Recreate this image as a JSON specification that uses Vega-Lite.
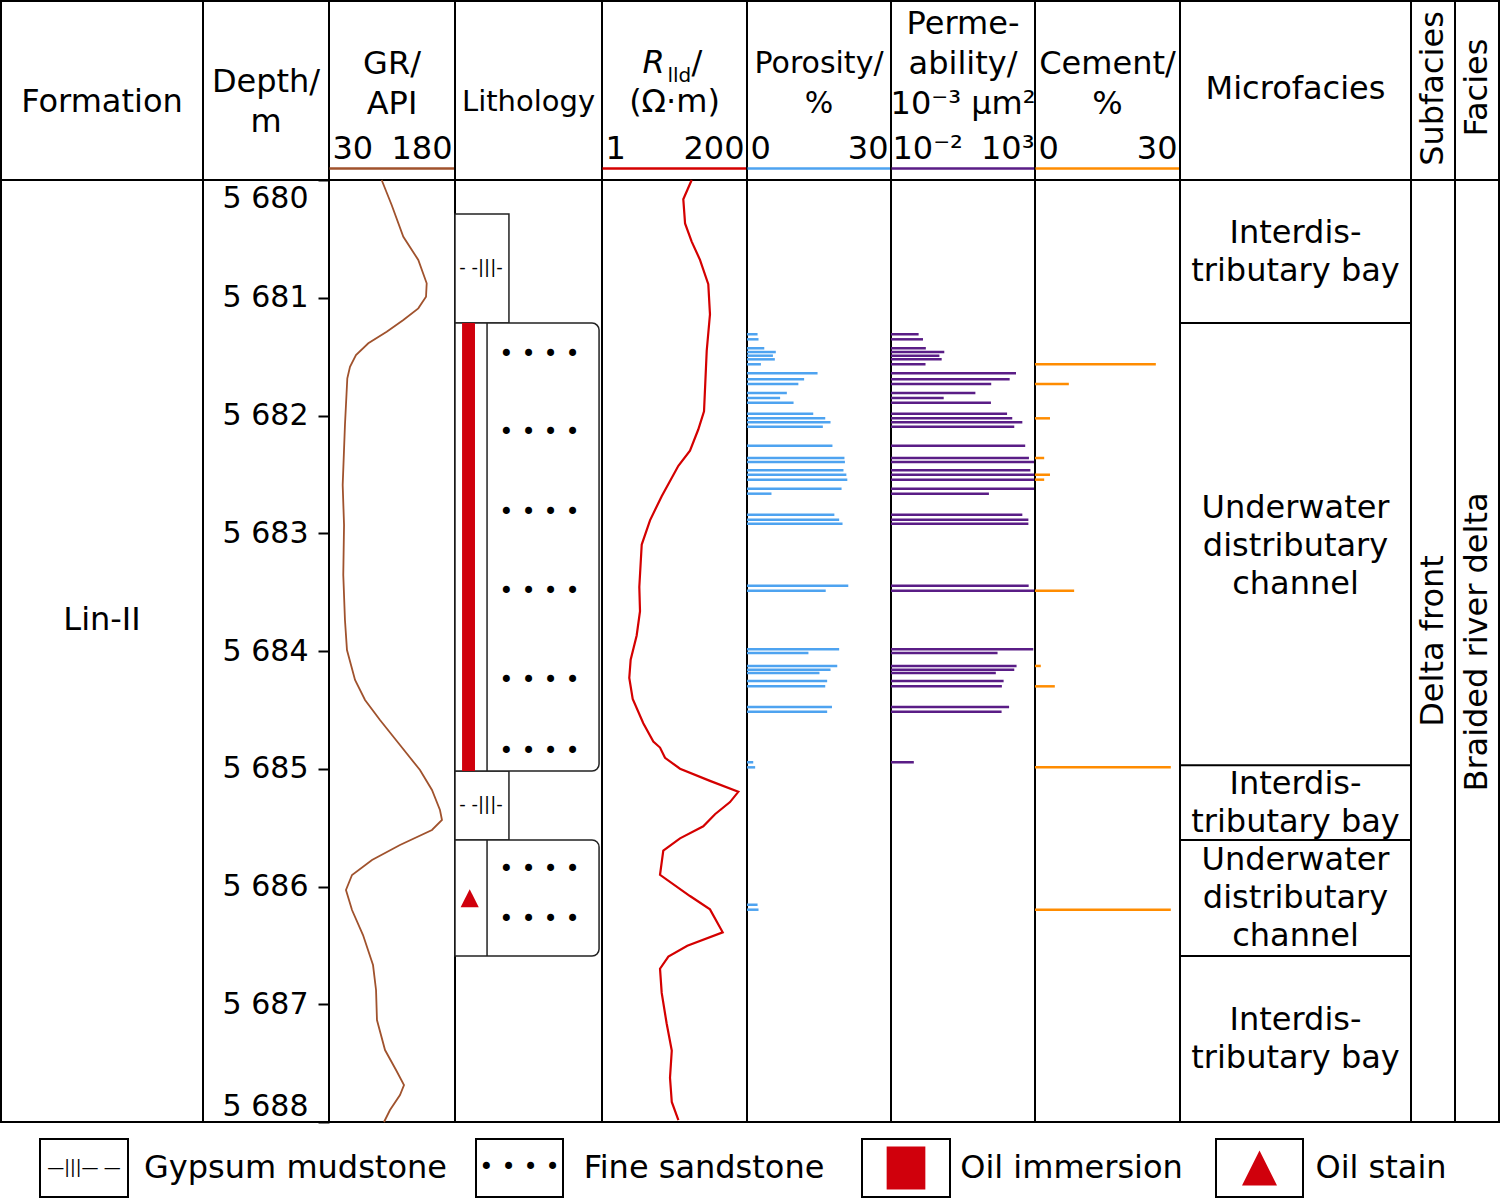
{
"$schema": "https://vega.github.io/schema/vega-lite/v6.json",
"padding": 0,
"background": "white",
"spacing": 11,
"config": {
  "view": {"stroke": "black", "strokeWidth": 2},
  "text": {"font": "DejaVu Sans", "fontSize": 32, "color": "black"},
  "axis": {"labelFont": "DejaVu Sans", "labelColor": "black"}
},
"datasets": {
  "gr": [
    {"depth":5680.000,"api":92.7},{"depth":5680.212,"api":104.6},{"depth":5680.482,"api":118.5},{"depth":5680.679,"api":136.3},
    {"depth":5680.877,"api":146.3},{"depth":5680.991,"api":145.5},{"depth":5681.090,"api":136.3},{"depth":5681.189,"api":118.5},
    {"depth":5681.288,"api":98.7},{"depth":5681.387,"api":76.8},{"depth":5681.486,"api":62.1},{"depth":5681.586,"api":55.0},
    {"depth":5681.684,"api":51.8},{"depth":5682.081,"api":49.0},{"depth":5682.590,"api":46.3},{"depth":5682.930,"api":47.9},
    {"depth":5683.355,"api":47.0},{"depth":5683.737,"api":49.0},{"depth":5683.992,"api":51.4},{"depth":5684.246,"api":61.0},
    {"depth":5684.416,"api":72.9},{"depth":5684.586,"api":90.7},{"depth":5684.798,"api":114.5},{"depth":5685.011,"api":138.3},
    {"depth":5685.180,"api":152.6},{"depth":5685.350,"api":162.1},{"depth":5685.435,"api":164.5},{"depth":5685.520,"api":152.6},
    {"depth":5685.648,"api":114.5},{"depth":5685.775,"api":81.2},{"depth":5685.902,"api":57.4},{"depth":5686.030,"api":50.2},
    {"depth":5686.200,"api":57.4},{"depth":5686.412,"api":70.5},{"depth":5686.667,"api":82.4},{"depth":5686.879,"api":86.0},
    {"depth":5687.134,"api":87.1},{"depth":5687.389,"api":96.7},{"depth":5687.558,"api":109.8},{"depth":5687.686,"api":119.3},
    {"depth":5687.771,"api":114.5},{"depth":5687.898,"api":102.6},{"depth":5688.000,"api":95.5}
  ],
  "rlld": [
    {"depth":5680.000,"r":26.5},{"depth":5680.163,"r":19.5},{"depth":5680.369,"r":20.8},{"depth":5680.523,"r":26.5},
    {"depth":5680.678,"r":35.9},{"depth":5680.884,"r":48.6},{"depth":5681.141,"r":51.7},{"depth":5681.450,"r":45.9},
    {"depth":5681.964,"r":41.6},{"depth":5682.119,"r":33.7},{"depth":5682.299,"r":24.9},{"depth":5682.427,"r":16.3},
    {"depth":5682.685,"r":8.86},{"depth":5682.890,"r":5.78},{"depth":5683.096,"r":4.27},{"depth":5683.456,"r":3.91},
    {"depth":5683.662,"r":4.01},{"depth":5683.868,"r":3.55},{"depth":5684.074,"r":2.85},{"depth":5684.228,"r":2.71},
    {"depth":5684.408,"r":3.07},{"depth":5684.614,"r":4.52},{"depth":5684.769,"r":6.52},{"depth":5684.820,"r":8.33},
    {"depth":5684.907,"r":10.0},{"depth":5685.000,"r":17.3},{"depth":5685.103,"r":51.7},{"depth":5685.196,"r":145.5},
    {"depth":5685.283,"r":107.5},{"depth":5685.386,"r":62.1},{"depth":5685.489,"r":40.5},{"depth":5685.591,"r":17.3},
    {"depth":5685.695,"r":9.39},{"depth":5685.901,"r":8.33},{"depth":5686.081,"r":24.9},{"depth":5686.194,"r":51.7},
    {"depth":5686.389,"r":82.3},{"depth":5686.503,"r":22.6},{"depth":5686.595,"r":11.3},{"depth":5686.698,"r":8.33},
    {"depth":5686.904,"r":8.86},{"depth":5687.161,"r":10.6},{"depth":5687.393,"r":12.8},{"depth":5687.624,"r":12.0},
    {"depth":5687.830,"r":12.8},{"depth":5687.985,"r":16.3}
  ],
  "samples": [
    {"depth":5681.310,"por":2.2,"perm":0.091,"cem":null},
    {"depth":5681.353,"por":2.4,"perm":0.129,"cem":null},
    {"depth":5681.429,"por":3.6,"perm":0.162,"cem":null},
    {"depth":5681.461,"por":6.0,"perm":0.708,"cem":null},
    {"depth":5681.492,"por":5.4,"perm":0.479,"cem":null},
    {"depth":5681.523,"por":5.8,"perm":0.575,"cem":null},
    {"depth":5681.565,"por":2.9,"perm":0.158,"cem":25.0},
    {"depth":5681.642,"por":14.7,"perm":218.8,"cem":null},
    {"depth":5681.693,"por":11.9,"perm":131.8,"cem":null},
    {"depth":5681.732,"por":10.7,"perm":30.2,"cem":7.0},
    {"depth":5681.809,"por":8.3,"perm":8.51,"cem":null},
    {"depth":5681.851,"por":6.9,"perm":0.676,"cem":null},
    {"depth":5681.891,"por":9.7,"perm":29.5,"cem":null},
    {"depth":5681.985,"por":13.8,"perm":107.2,"cem":null},
    {"depth":5682.024,"por":16.3,"perm":162.2,"cem":3.1},
    {"depth":5682.058,"por":17.4,"perm":363.1,"cem":null},
    {"depth":5682.095,"por":15.8,"perm":190.5,"cem":null},
    {"depth":5682.256,"por":17.8,"perm":457.1,"cem":null},
    {"depth":5682.361,"por":20.3,"perm":616.6,"cem":1.9},
    {"depth":5682.395,"por":20.4,"perm":1000,"cem":null},
    {"depth":5682.465,"por":20.1,"perm":691.8,"cem":null},
    {"depth":5682.503,"por":20.7,"perm":1000,"cem":3.1},
    {"depth":5682.545,"por":20.9,"perm":1000,"cem":1.9},
    {"depth":5682.622,"por":19.7,"perm":1000,"cem":null},
    {"depth":5682.664,"por":5.1,"perm":25.1,"cem":null},
    {"depth":5682.842,"por":18.2,"perm":363.1,"cem":null},
    {"depth":5682.885,"por":19.2,"perm":588.8,"cem":null},
    {"depth":5682.919,"por":19.9,"perm":588.8,"cem":null},
    {"depth":5683.445,"por":21.1,"perm":602.6,"cem":null},
    {"depth":5683.488,"por":16.4,"perm":1000,"cem":8.1},
    {"depth":5683.986,"por":19.2,"perm":871,"cem":null},
    {"depth":5684.017,"por":12.8,"perm":50.1,"cem":null},
    {"depth":5684.127,"por":18.8,"perm":229,"cem":1.2},
    {"depth":5684.159,"por":17.4,"perm":190.5,"cem":null},
    {"depth":5684.187,"por":15.1,"perm":43.6,"cem":null},
    {"depth":5684.255,"por":16.7,"perm":81.3,"cem":null},
    {"depth":5684.300,"por":16.3,"perm":70.8,"cem":4.1},
    {"depth":5684.476,"por":17.7,"perm":125.9,"cem":null},
    {"depth":5684.516,"por":16.7,"perm":69.2,"cem":null},
    {"depth":5684.945,"por":1.3,"perm":0.062,"cem":null},
    {"depth":5684.988,"por":1.7,"perm":null,"cem":28.1},
    {"depth":5686.155,"por":2.2,"perm":null,"cem":null},
    {"depth":5686.197,"por":2.4,"perm":null,"cem":28.1}
  ],
  "lith": [
    {"top":5680.289,"bottom":5681.215,"mid":5680.75,"lith":"Gypsum mudstone","grain":0.367,"oil":null},
    {"top":5681.215,"bottom":5685.019,"mid":5683.12,"lith":"Fine sandstone","grain":0.98,"oil":"Oil immersion"},
    {"top":5685.019,"bottom":5685.605,"mid":5685.31,"lith":"Gypsum mudstone","grain":0.367,"oil":null},
    {"top":5685.605,"bottom":5686.590,"mid":5686.10,"lith":"Fine sandstone","grain":0.98,"oil":"Oil stain"}
  ],
  "pattern": [
    {"depth":5680.747,"p":"gyp"},{"depth":5685.308,"p":"gyp"},
    {"depth":5681.486,"p":"sand"},{"depth":5682.149,"p":"sand"},{"depth":5682.828,"p":"sand"},{"depth":5683.499,"p":"sand"},
    {"depth":5684.255,"p":"sand"},{"depth":5684.858,"p":"sand"},{"depth":5685.860,"p":"sand"},{"depth":5686.285,"p":"sand"}
  ],
  "micro": [
    {"top":5680.0,"bottom":5681.215,"mid":5680.6075,"name":"Interdis-\ntributary bay"},
    {"top":5681.215,"bottom":5684.97,"mid":5683.11,"name":"Underwater\ndistributary\nchannel"},
    {"top":5684.97,"bottom":5685.605,"mid":5685.2875,"name":"Interdis-\ntributary bay"},
    {"top":5685.605,"bottom":5686.59,"mid":5686.0975,"name":"Underwater\ndistributary\nchannel"},
    {"top":5686.59,"bottom":5688.0,"mid":5687.295,"name":"Interdis-\ntributary bay"}
  ]
},
"vconcat": [
{
"columns": 11,
"spacing": 0,
"bounds": "flush",
"concat": [
  {"width":202,"height":179,"data":{"values":[{"h":"Formation"}]},"mark":{"type":"text","dy":11},
   "encoding":{"text":{"field":"h"},"x":{"datum":0.5,"type":"quantitative","scale":{"domain":[0,1]},"axis":null}}},
  {"width":126,"height":179,"data":{"values":[{"h":"Depth/\nm"}]},"mark":{"type":"text","dy":-9,"lineBreak":"\n","lineHeight":40},
   "encoding":{"text":{"field":"h"},"x":{"datum":0.5,"type":"quantitative","scale":{"domain":[0,1]},"axis":null}}},
  {"width":126,"height":179,"data":{"values":[{"h":"GR/\nAPI"}]},"mark":{"type":"text","dy":-27,"lineBreak":"\n","lineHeight":40},
   "encoding":{"text":{"field":"h"},
     "x":{"datum":105,"type":"quantitative","scale":{"domain":[30,180],"nice":false,"zero":false},
          "axis":{"orient":"bottom","offset":-12,"values":[30,180],"format":"d","labelFlush":true,"labelFlushOffset":-3,"labelBaseline":"alphabetic","labelPadding":-10,"labelFontSize":32,"labelOverlap":false,"labelBound":false,"ticks":false,"tickSize":0,"grid":false,"domainColor":"#a0522d","domainWidth":2.5,"title":null}}}},
  {"width":147,"height":179,"data":{"values":[{"h":"Lithology"}]},"mark":{"type":"text","dy":11,"fontSize":29},
   "encoding":{"text":{"field":"h"},"x":{"datum":0.5,"type":"quantitative","scale":{"domain":[0,1]},"axis":null}}},
  {"width":145,"height":179,"data":{"values":[{"r":"R","sub":"lld","sl":"/","unit":"(Ω·m)"}]},
   "layer":[
     {"mark":{"type":"text","align":"left","baseline":"alphabetic","fontStyle":"italic","dx":-32,"dy":-17.5},
      "encoding":{"text":{"field":"r"},
        "x":{"datum":14.142,"type":"quantitative","scale":{"type":"log","domain":[1,200],"nice":false},
             "axis":{"orient":"bottom","offset":-12,"values":[1,200],"format":"d","labelFlush":true,"labelFlushOffset":-3,"labelBaseline":"alphabetic","labelPadding":-10,"labelFontSize":32,"labelOverlap":false,"labelBound":false,"ticks":false,"tickSize":0,"grid":false,"domainColor":"#d40000","domainWidth":2.5,"title":null}}}},
     {"mark":{"type":"text","align":"left","baseline":"alphabetic","fontSize":20,"dx":-7,"dy":-9},"encoding":{"text":{"field":"sub"}}},
     {"mark":{"type":"text","align":"left","baseline":"alphabetic","dx":17,"dy":-17.5},"encoding":{"text":{"field":"sl"}}},
     {"mark":{"type":"text","dy":11},"encoding":{"text":{"field":"unit"}}}
   ]},
  {"width":144,"height":179,"data":{"values":[{"h":"Porosity/\n%"}]},"mark":{"type":"text","dy":-27,"lineBreak":"\n","lineHeight":40,"fontSize":30},
   "encoding":{"text":{"field":"h"},
     "x":{"datum":15,"type":"quantitative","scale":{"domain":[0,30],"nice":false,"zero":false},
          "axis":{"orient":"bottom","offset":-12,"values":[0,30],"format":"d","labelFlush":true,"labelFlushOffset":-3,"labelBaseline":"alphabetic","labelPadding":-10,"labelFontSize":32,"labelOverlap":false,"labelBound":false,"ticks":false,"tickSize":0,"grid":false,"domainColor":"#4ea3f0","domainWidth":2.5,"title":null}}}},
  {"width":144,"height":179,"data":{"values":[{"h":"Perme-\nability/\n10⁻³ μm²"}]},"mark":{"type":"text","dy":-67,"lineBreak":"\n","lineHeight":40},
   "encoding":{"text":{"field":"h"},
     "x":{"datum":3.1623,"type":"quantitative","scale":{"type":"log","domain":[0.01,1000],"nice":false},
          "axis":{"orient":"bottom","offset":-12,"values":[0.01,1000],"labelExpr":"datum.value < 1 ? '10⁻²' : '10³'","labelFlush":true,"labelFlushOffset":-1,"labelBaseline":"alphabetic","labelPadding":-10,"labelFontSize":32,"labelOverlap":false,"labelBound":false,"ticks":false,"tickSize":0,"grid":false,"domainColor":"#5a1d86","domainWidth":2.5,"title":null}}}},
  {"width":145,"height":179,"data":{"values":[{"h":"Cement/\n%"}]},"mark":{"type":"text","dy":-27,"lineBreak":"\n","lineHeight":40},
   "encoding":{"text":{"field":"h"},
     "x":{"datum":15,"type":"quantitative","scale":{"domain":[0,30],"nice":false,"zero":false},
          "axis":{"orient":"bottom","offset":-12,"values":[0,30],"format":"d","labelFlush":true,"labelFlushOffset":-3,"labelBaseline":"alphabetic","labelPadding":-10,"labelFontSize":32,"labelOverlap":false,"labelBound":false,"ticks":false,"tickSize":0,"grid":false,"domainColor":"#ff8c00","domainWidth":2.5,"title":null}}}},
  {"width":231,"height":179,"data":{"values":[{"h":"Microfacies"}]},"mark":{"type":"text","dy":-2},
   "encoding":{"text":{"field":"h"},"x":{"datum":0.5,"type":"quantitative","scale":{"domain":[0,1]},"axis":null}}},
  {"width":44,"height":179,"data":{"values":[{"h":"Subfacies"}]},"mark":{"type":"text","angle":270,"dx":2},
   "encoding":{"text":{"field":"h"},"x":{"datum":0.5,"type":"quantitative","scale":{"domain":[0,1]},"axis":null}}},
  {"width":44,"height":179,"data":{"values":[{"h":"Facies"}]},"mark":{"type":"text","angle":270,"dx":3},
   "encoding":{"text":{"field":"h"},"x":{"datum":0.5,"type":"quantitative","scale":{"domain":[0,1]},"axis":null}}},

  {"width":202,"height":942,"data":{"values":[{"f":"Lin-II"}]},"mark":{"type":"text","dy":-31},
   "encoding":{"text":{"field":"f"},"x":{"datum":0.5,"type":"quantitative","scale":{"domain":[0,1]},"axis":null}}},
  {"width":126,"height":942,"data":{"values":[{"t":""}]},"mark":{"type":"text"},
   "encoding":{"text":{"field":"t"},"x":{"datum":0.5,"type":"quantitative","scale":{"domain":[0,1]},"axis":null}}},
  {"width":126,"height":942,"data":{"name":"gr"},"mark":{"type":"line","color":"#a0522d","strokeWidth":1.8},
   "encoding":{
     "x":{"field":"api","type":"quantitative","scale":{"domain":[30,180],"nice":false,"zero":false},"axis":null},
     "y":{"field":"depth","type":"quantitative","scale":{"domain":[5680,5688],"reverse":true,"nice":false,"zero":false},
          "axis":{"orient":"left","values":[5680,5681,5682,5683,5684,5685,5686,5687,5688],"labelExpr":"'5 ' + substring('' + datum.value, 1, 4)","labelFontSize":30,"labelPadding":10,"labelBaseline":"middle","tickSize":11,"tickWidth":2,"tickColor":"black","domain":false,"grid":false,"title":null,"labelOverlap":false,"labelBound":false,
                  "labelOffset":{"condition":[{"test":"datum.value == 5680","value":18},{"test":"datum.value == 5688","value":-16}],"value":0}}},
     "order":{"field":"depth","type":"quantitative"}}},
  {"width":147,"height":942,
   "layer":[
     {"data":{"name":"lith"},"transform":[{"filter":"datum.lith == 'Gypsum mudstone'"}],
      "mark":{"type":"rect","fill":"white","stroke":"#222222","strokeWidth":1.5},
      "encoding":{"x":{"field":"grain","type":"quantitative","scale":{"domain":[0,1],"nice":false,"zero":false},"axis":null},"x2":{"datum":0},
                  "y":{"field":"top","type":"quantitative","scale":{"domain":[5680,5688],"reverse":true,"nice":false,"zero":false},"axis":null},"y2":{"field":"bottom"}}},
     {"data":{"name":"lith"},"transform":[{"filter":"datum.lith == 'Fine sandstone'"}],
      "mark":{"type":"rect","fill":"white","stroke":"#222222","strokeWidth":1.5,"cornerRadiusTopRight":7,"cornerRadiusBottomRight":7},
      "encoding":{"x":{"field":"grain","type":"quantitative","axis":null},"x2":{"datum":0},
                  "y":{"field":"top","type":"quantitative","axis":null},"y2":{"field":"bottom"}}},
     {"data":{"name":"lith"},"transform":[{"filter":"datum.oil == 'Oil immersion'"}],
      "mark":{"type":"rect","fill":"#d0000c"},
      "encoding":{"x":{"datum":0.048,"type":"quantitative","axis":null},"x2":{"datum":0.136},
                  "y":{"field":"top","type":"quantitative","axis":null},"y2":{"field":"bottom"}}},
     {"data":{"name":"lith"},"transform":[{"filter":"datum.lith == 'Fine sandstone'"}],
      "mark":{"type":"rule","color":"#222222","strokeWidth":1.5},
      "encoding":{"x":{"datum":0.218,"type":"quantitative","axis":null},
                  "y":{"field":"top","type":"quantitative","axis":null},"y2":{"field":"bottom"}}},
     {"data":{"name":"lith"},"transform":[{"filter":"datum.oil == 'Oil stain'"}],
      "mark":{"type":"point","shape":"M0,-1L1,1L-1,1Z","size":330,"filled":true,"color":"#d0000c","opacity":1},
      "encoding":{"x":{"datum":0.10,"type":"quantitative","axis":null},
                  "y":{"field":"mid","type":"quantitative","axis":null}}},
     {"data":{"name":"pattern"},"transform":[{"filter":"datum.p == 'sand'"}],
      "mark":{"type":"text","fontSize":24},
      "encoding":{"text":{"value":"•\u2004•\u2004•\u2004•"},"x":{"datum":0.575,"type":"quantitative","axis":null},
                  "y":{"field":"depth","type":"quantitative","axis":null}}},
     {"data":{"name":"pattern"},"transform":[{"filter":"datum.p == 'gyp'"}],
      "mark":{"type":"text","fontSize":18},
      "encoding":{"text":{"value":"- -|||-"},"x":{"datum":0.177,"type":"quantitative","axis":null},
                  "y":{"field":"depth","type":"quantitative","axis":null}}}
   ]},
  {"width":145,"height":942,"data":{"name":"rlld"},"mark":{"type":"line","color":"#d40000","strokeWidth":2.2},
   "encoding":{
     "x":{"field":"r","type":"quantitative","scale":{"type":"log","domain":[1,200],"nice":false},"axis":null},
     "y":{"field":"depth","type":"quantitative","scale":{"domain":[5680,5688],"reverse":true,"nice":false,"zero":false},"axis":null},
     "order":{"field":"depth","type":"quantitative"}}},
  {"width":144,"height":942,"data":{"name":"samples"},"mark":{"type":"rule","color":"#4ea3f0","strokeWidth":2.5},
   "encoding":{
     "x":{"field":"por","type":"quantitative","scale":{"domain":[0,30],"nice":false,"zero":false},"axis":null},"x2":{"datum":0},
     "y":{"field":"depth","type":"quantitative","scale":{"domain":[5680,5688],"reverse":true,"nice":false,"zero":false},"axis":null}}},
  {"width":144,"height":942,"data":{"name":"samples"},"transform":[{"filter":"datum.perm != null"}],"mark":{"type":"rule","color":"#5a1d86","strokeWidth":2.5},
   "encoding":{
     "x":{"field":"perm","type":"quantitative","scale":{"type":"log","domain":[0.01,1000],"nice":false},"axis":null},"x2":{"datum":0.01},
     "y":{"field":"depth","type":"quantitative","scale":{"domain":[5680,5688],"reverse":true,"nice":false,"zero":false},"axis":null}}},
  {"width":145,"height":942,"data":{"name":"samples"},"transform":[{"filter":"datum.cem != null"}],"mark":{"type":"rule","color":"#ff8c00","strokeWidth":2.5},
   "encoding":{
     "x":{"field":"cem","type":"quantitative","scale":{"domain":[0,30],"nice":false,"zero":false},"axis":null},"x2":{"datum":0},
     "y":{"field":"depth","type":"quantitative","scale":{"domain":[5680,5688],"reverse":true,"nice":false,"zero":false},"axis":null}}},
  {"width":231,"height":942,"data":{"name":"micro"},
   "layer":[
     {"transform":[{"filter":"datum.top > 5680"}],"mark":{"type":"rule","color":"black","strokeWidth":2},
      "encoding":{"y":{"field":"top","type":"quantitative","scale":{"domain":[5680,5688],"reverse":true,"nice":false,"zero":false},"axis":null}}},
     {"transform":[{"filter":"indexof(datum.name, 'channel') < 0"}],"mark":{"type":"text","lineBreak":"\n","lineHeight":38,"dy":-19},
      "encoding":{"text":{"field":"name"},"y":{"field":"mid","type":"quantitative","axis":null}}},
     {"transform":[{"filter":"indexof(datum.name, 'channel') >= 0"}],"mark":{"type":"text","lineBreak":"\n","lineHeight":38,"dy":-38},
      "encoding":{"text":{"field":"name"},"y":{"field":"mid","type":"quantitative","axis":null}}}
   ]},
  {"width":44,"height":942,"data":{"values":[{"s":"Delta front"}]},"mark":{"type":"text","angle":270,"dx":10},
   "encoding":{"text":{"field":"s"},"x":{"datum":0.5,"type":"quantitative","scale":{"domain":[0,1]},"axis":null}}},
  {"width":44,"height":942,"data":{"values":[{"s":"Braided river delta"}]},"mark":{"type":"text","angle":270,"dx":9},
   "encoding":{"text":{"field":"s"},"x":{"datum":0.5,"type":"quantitative","scale":{"domain":[0,1]},"axis":null}}}
]
},
{
"spacing": 0,
"bounds": "flush",
"hconcat": [
  {"width":39,"height":58,"view":{"stroke":null},"data":{"values":[{"t":""}]},"mark":"text","encoding":{"text":{"field":"t"}}},
  {"width":88,"height":58,"data":{"values":[{"s":"—|||— —"}]},"mark":{"type":"text","fontSize":17},
   "encoding":{"text":{"field":"s"},"x":{"datum":0.5,"type":"quantitative","scale":{"domain":[0,1]},"axis":null}}},
  {"width":348,"height":58,"view":{"stroke":null},"data":{"values":[{"t":"Gypsum mudstone"}]},"mark":{"type":"text","dx":-6.5},"encoding":{"text":{"field":"t"}}},
  {"width":87,"height":58,"data":{"values":[{"s":"•\u2004•\u2004•\u2004•"}]},"mark":{"type":"text","fontSize":24},
   "encoding":{"text":{"field":"s"},"x":{"datum":0.5,"type":"quantitative","scale":{"domain":[0,1]},"axis":null}}},
  {"width":299,"height":58,"view":{"stroke":null},"data":{"values":[{"t":"Fine sandstone"}]},"mark":{"type":"text","dx":-8.5},"encoding":{"text":{"field":"t"}}},
  {"width":88,"height":58,"data":{"values":[{"k":"Oil immersion"}]},"mark":{"type":"point","shape":"M-0.9,-1L0.9,-1L0.9,1L-0.9,1Z","size":1849,"filled":true,"color":"#d0000c","opacity":1},
   "encoding":{"x":{"datum":0.5,"type":"quantitative","scale":{"domain":[0,1]},"axis":null}}},
  {"width":266,"height":58,"view":{"stroke":null},"data":{"values":[{"t":"Oil immersion"}]},"mark":{"type":"text","dx":-11.5},"encoding":{"text":{"field":"t"}}},
  {"width":87,"height":58,"data":{"values":[{"k":"Oil stain"}]},"mark":{"type":"point","shape":"M0,-1L1,1L-1,1Z","size":1225,"filled":true,"color":"#d0000c","opacity":1},
   "encoding":{"x":{"datum":0.5,"type":"quantitative","scale":{"domain":[0,1]},"axis":null}}},
  {"width":195,"height":58,"view":{"stroke":null},"data":{"values":[{"t":"Oil stain"}]},"mark":{"type":"text","dx":-19.5},"encoding":{"text":{"field":"t"}}}
]
}
]
}
